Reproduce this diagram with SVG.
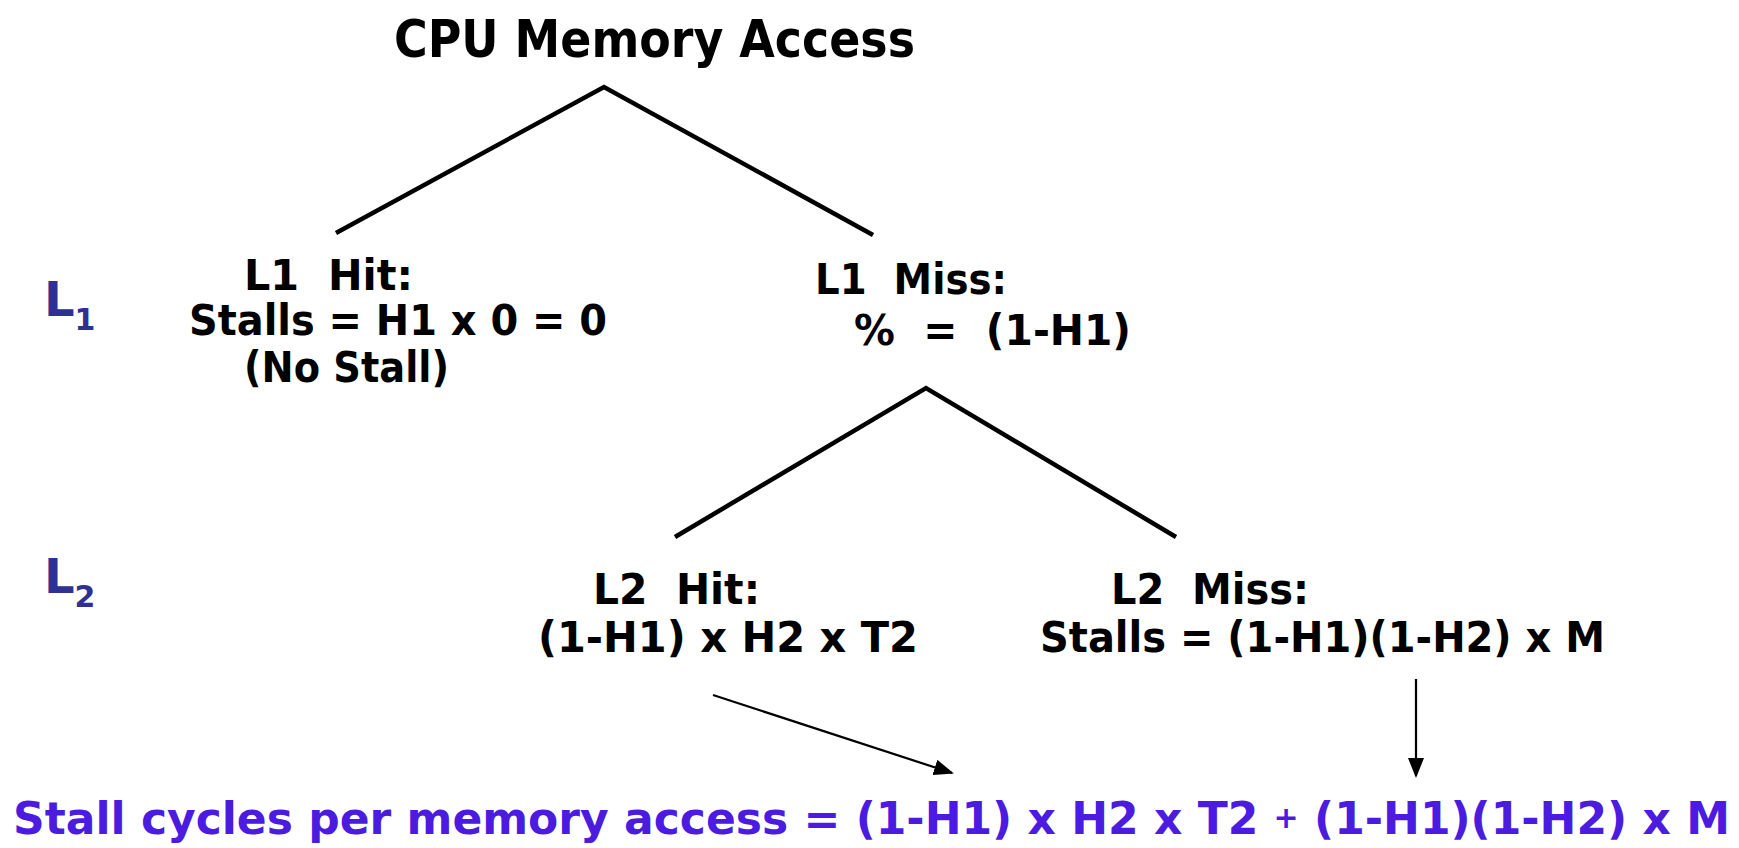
<svg xmlns="http://www.w3.org/2000/svg" width="1739" height="848" viewBox="0 0 1739 848">
<style>
.t{font-family:"Comic Sans MS","DejaVu Sans",sans-serif;font-weight:bold;fill:#000;white-space:pre}
.n{font-size:42px}
.lv{font-family:"Comic Sans MS","DejaVu Sans",sans-serif;font-weight:bold;fill:#2e3192}
.sum{font-family:"Comic Sans MS","DejaVu Sans",sans-serif;font-weight:bold;fill:#4b1be0;font-size:44px;white-space:pre}
.br{stroke:#000;stroke-width:4.5;fill:none}
.ar{stroke:#000;stroke-width:2.2;fill:none}
</style>
<defs>
<marker id="ahb" viewBox="0 0 10 10" refX="9" refY="5" markerWidth="20" markerHeight="16" markerUnits="userSpaceOnUse" orient="auto" preserveAspectRatio="none">
<path d="M0,0 L10,5 L0,10 z" fill="#000"/>
</marker>
</defs>
<rect width="1739" height="848" fill="#fff"/>
<g id="root"><text class="t" x="394" y="57" font-size="52" textLength="521" lengthAdjust="spacingAndGlyphs">CPU Memory Access</text></g>
<g id="level1"><text class="lv" x="44" y="316" font-size="48">L<tspan font-size="30" dy="14">1</tspan></text></g>
<g id="level2"><text class="lv" x="44" y="593" font-size="48">L<tspan font-size="30" dy="14">2</tspan></text></g>
<g id="l1hit">
<text class="t n" x="244" y="290" textLength="169" lengthAdjust="spacingAndGlyphs">L1  Hit:</text>
<text class="t n" x="189" y="335" textLength="418" lengthAdjust="spacingAndGlyphs">Stalls = H1 x 0 = 0</text>
<text class="t n" x="244" y="382" textLength="205" lengthAdjust="spacingAndGlyphs">(No Stall)</text>
</g>
<g id="l1miss">
<text class="t n" x="815" y="294" textLength="192" lengthAdjust="spacingAndGlyphs">L1  Miss:</text>
<text class="t n" x="854" y="345" textLength="277" lengthAdjust="spacingAndGlyphs">%  =  (1-H1)</text>
</g>
<g id="l2hit">
<text class="t n" x="593" y="604" textLength="167" lengthAdjust="spacingAndGlyphs">L2  Hit:</text>
<text class="t n" x="538" y="652" textLength="380" lengthAdjust="spacingAndGlyphs">(1-H1) x H2 x T2</text>
</g>
<g id="l2miss">
<text class="t n" x="1111" y="604" textLength="198" lengthAdjust="spacingAndGlyphs">L2  Miss:</text>
<text class="t n" x="1040" y="652" textLength="565" lengthAdjust="spacingAndGlyphs">Stalls = (1-H1)(1-H2) x M</text>
</g>
<g id="total">
<text class="sum" x="13" y="834" textLength="1717" lengthAdjust="spacingAndGlyphs">Stall cycles per memory access = (1-H1) x H2 x T2 <tspan font-size="30" dy="-6">+</tspan><tspan dy="6"> (1-H1)(1-H2) x M</tspan></text>
</g>
<g id="connectors">
<path class="br" d="M336,233 L604,87 L873,235"/>
<path class="br" d="M675,537 L926,388 L1176,537"/>
<line class="ar" x1="713" y1="695" x2="952" y2="773" marker-end="url(#ahb)"/>
<line class="ar" x1="1416" y1="679" x2="1416" y2="776" marker-end="url(#ahb)"/>
</g>
</svg>
